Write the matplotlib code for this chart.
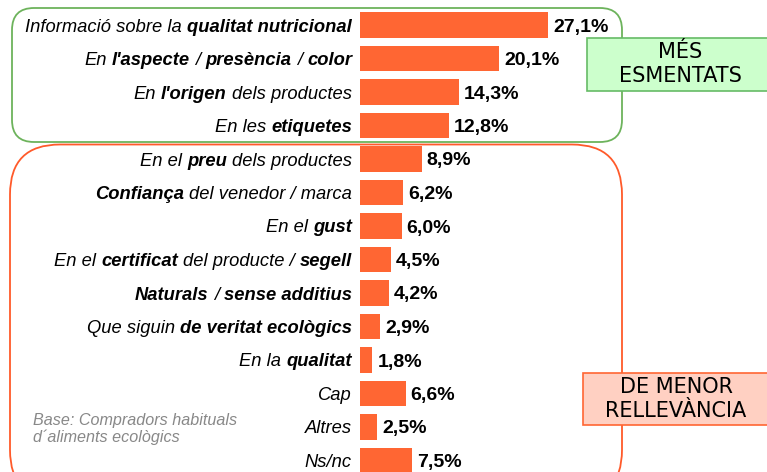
'''Factors que es tenen en compte en comprar aliments ecològics.'''
import matplotlib
matplotlib.use('Agg')
from matplotlib import pyplot as plt
from matplotlib.patches import FancyBboxPatch
from matplotlib.transforms import blended_transform_factory


# Data

labels = [
    [('Informació sobre la ', False), ('qualitat nutricional', True)],
    [('En ', False), ("l'aspecte", True), (' / ', False), ('presència', True), (' / ', False), ('color', True)],
    [('En ', False), ("l'origen", True), (' dels productes', False)],
    [('En les ', False), ('etiquetes', True)],
    [('En el ', False), ('preu', True), (' dels productes', False)],
    [('Confiança', True), (' del venedor / marca', False)],
    [('En el ', False), ('gust', True)],
    [('En el ', False), ('certificat', True), (' del producte / ', False), ('segell', True)],
    [('Naturals', True), (' / ', False), ('sense additius', True)],
    [('Que siguin ', False), ('de veritat ecològics', True)],
    [('En la ', False), ('qualitat', True)],
    [('Cap', False)],
    [('Altres', False)],
    [('Ns/nc', False)],
]
values = [27.1, 20.1, 14.3, 12.8, 8.9, 6.2, 6.0, 4.5, 4.2, 2.9, 1.8, 6.6, 2.5, 7.5]

top_tag = 'MÉS\nESMENTATS'
low_tag = 'DE MENOR\nRELLEVÀNCIA'
base_note = 'Base: Compradors habituals\nd´aliments ecològics'


W, H = 767, 472
bar_color = '#ff6633'
font = 'Liberation Sans'

fig = plt.figure(figsize=(W / 100, H / 100), dpi=100)

# axes start where the bars start (x=360px) and span the full height
x0 = 360
px_per_unit = 6.94
ax = fig.add_axes([x0 / W, 0, 1 - x0 / W, 1])
ax.set_xlim(0, (W - x0) / px_per_unit)
row0, step = 25, 33.5
ax.set_ylim((H - row0) / step, -row0 / step)
ax.axis('off')

n = len(values)
ax.barh(range(n), values, height=0.75, color=bar_color, zorder=3)
for i, v in enumerate(values):
    ax.annotate(f'{v:.1f}%'.replace('.', ','), (v, i), xytext=(3.5, 0),
                textcoords='offset points', va='center_baseline', ha='left',
                fontsize=14, fontweight='bold', family=font, zorder=4)


def px(x, y):
    '''pixel (from top left) -> inches for dpi_scale_trans'''
    return x / 100, (H - y) / 100


inch = fig.dpi_scale_trans

# rounded group boxes
green = FancyBboxPatch(px(12, 142), 6.10, 1.34,
                       boxstyle='round,pad=0,rounding_size=0.22',
                       transform=inch, fc='none', ec='#6db35c', lw=1.3, zorder=1)
red = FancyBboxPatch(px(10, 500), 6.12, 3.555,
                     boxstyle='round,pad=0,rounding_size=0.5',
                     transform=inch, fc='none', ec='#ff5a2a', lw=1.3, zorder=1)
fig.add_artist(green)
fig.add_artist(red)

# tag boxes
tag1 = FancyBboxPatch(px(587, 91), 1.85, 0.53, boxstyle='square,pad=0',
                      transform=inch, fc='#ccffcc', ec='#66bb66', lw=1.2, zorder=5)
tag2 = FancyBboxPatch(px(583, 425), 1.90, 0.52, boxstyle='square,pad=0',
                      transform=inch, fc='#ffd0c2', ec='#ff6633', lw=1.2, zorder=5)
fig.add_artist(tag1)
fig.add_artist(tag2)
fig.text(*px(680, 64), top_tag, transform=inch, ha='center', va='center',
         fontsize=15, linespacing=1.2, family='DejaVu Sans', zorder=6)
fig.text(*px(676, 399), low_tag, transform=inch, ha='center', va='center',
         fontsize=15, linespacing=1.2, family='DejaVu Sans', zorder=6)

fig.text(*px(33, 429), base_note, transform=inch, ha='left', va='center',
         fontsize=11.6, style='italic', color='#888888', family=font,
         linespacing=1.1)

# category labels: italic, with bold parts, right aligned at x=352px
fig.canvas.draw()
renderer = fig.canvas.get_renderer()
trans = blended_transform_factory(inch, ax.transData)
fs = 13.2


def width_of(s, bold):
    t = fig.text(0, 0, s, fontsize=fs, style='italic', family=font,
                 fontweight='bold' if bold else 'normal')
    w = t.get_window_extent(renderer).width
    t.remove()
    return w


space = {b: width_of('a a', b) - width_of('aa', b) for b in (False, True)}

for i, pieces in enumerate(labels):
    x = 352
    for text, bold in reversed(pieces):
        core = text.strip()
        x -= (len(text) - len(text.rstrip())) * space[bold]
        t = fig.text(x / 100, i, core, transform=trans, ha='right',
                     va='center_baseline', fontsize=fs, style='italic',
                     family=font, fontweight='bold' if bold else 'normal')
        x -= t.get_window_extent(renderer).width
        x -= (len(text) - len(text.lstrip())) * space[bold]

fig.savefig('out.png', dpi=100)
